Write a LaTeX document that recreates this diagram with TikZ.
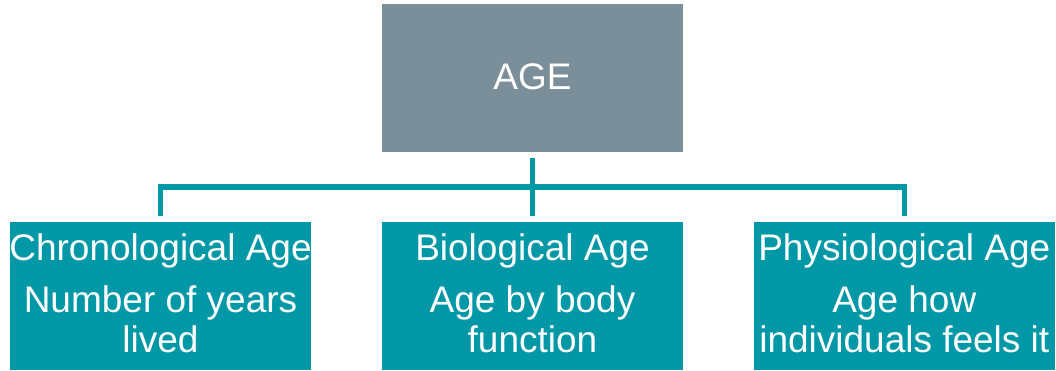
\documentclass[tikz,border=0pt]{standalone}
\usepackage{fontspec}
\setmainfont{Liberation Sans}
\definecolor{agegray}{RGB}{122,143,154}
\definecolor{ageteal}{RGB}{0,152,166}
\begin{document}
\begin{tikzpicture}[x=1pt,y=1pt,
  box/.style={draw=none,minimum width=301pt,minimum height=148pt,inner sep=0pt},
  topbox/.style={box,fill=agegray},
  subbox/.style={box,fill=ageteal},
  lbl/.style={anchor=base,text=white,inner sep=0pt,font=\fontsize{37}{42}\selectfont},
  conn/.style={draw=ageteal,line width=5.5pt}]
\useasboundingbox (0,0) rectangle (1056,371);
% boxes
\node[topbox] (top) at (532.5,293) {};
\node[subbox] (l) at (160.5,75) {};
\node[subbox] (m) at (532.5,75) {};
\node[subbox] (r) at (904.3,75) {};
% texts
\node[lbl] (topt) at ([yshift=-12pt]top.center) {AGE};
\node[lbl] (lt1) at ([yshift=35pt]l.center) {Chronological Age};
\node[lbl] (lt2) at ([yshift=-17pt]l.center) {Number of years};
\node[lbl] (lt3) at ([yshift=-57pt]l.center) {lived};
\node[lbl] (mt1) at ([yshift=35pt]m.center) {Biological Age};
\node[lbl] (mt2) at ([yshift=-17pt]m.center) {Age by body};
\node[lbl] (mt3) at ([yshift=-57pt]m.center) {function};
\node[lbl] (rt1) at ([yshift=35pt]r.center) {Physiological Age};
\node[lbl] (rt2) at ([yshift=-17pt]r.center) {Age how};
\node[lbl] (rt3) at ([yshift=-57pt]r.center) {individuals feels it};
% connectors
\coordinate (bus) at (532.5,184);
\draw[conn] ([yshift=-5.5pt]top.south) -- ([yshift=5.5pt]m.north);
\draw[conn] ([yshift=5.5pt]l.north) |- (bus) -| ([yshift=5.5pt]r.north);
\end{tikzpicture}
\end{document}
